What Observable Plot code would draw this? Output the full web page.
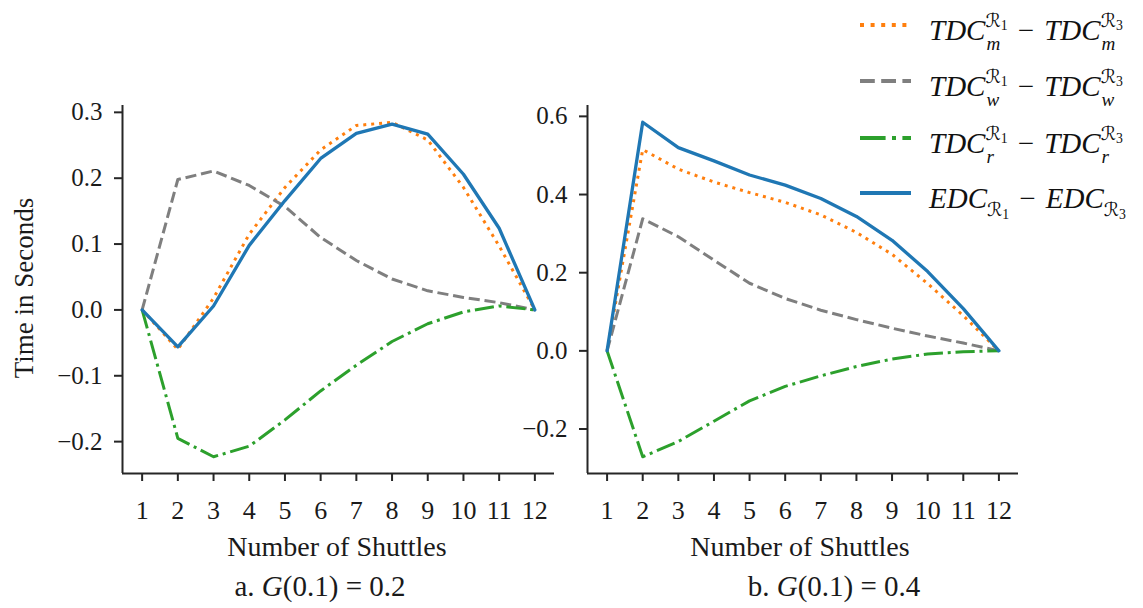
<!DOCTYPE html>
<html>
<head>
<meta charset="utf-8">
<script src="https://cdn.jsdelivr.net/npm/d3@7"></script>
<script src="https://cdn.jsdelivr.net/npm/@observablehq/plot@0.6"></script>
<style>
  body { margin: 0; background: #fff; }
  #wrap { position: relative; width: 1143px; height: 608px; overflow: hidden; font-family: "Liberation Serif", "Times New Roman", serif; color: #1a1a1a; }
  .panel { position: absolute; top: 0; }
  .xlabel { position: absolute; white-space: nowrap; font-size: 28px; transform: translateX(-50%); line-height: 1; }
  .caption { position: absolute; white-space: nowrap; font-size: 29px; transform: translateX(-50%); line-height: 1; }
  .caption i { font-style: italic; }
  .caption .eq { margin: 0 0.25em; }
  .ylabel { position: absolute; white-space: nowrap; font-size: 27px; line-height: 1; transform: translate(-50%, -50%) rotate(-90deg); }
  .leg-line { position: absolute; }
  .leg-text { position: absolute; white-space: nowrap; font-size: 29px; line-height: 1; font-style: italic; color: #111; }
  .scr { font-family: "DejaVu Serif", "DejaVu Sans", serif; font-style: normal; }
  .ss { display: inline-block; position: relative; font-size: 0.66em; font-style: italic; }
  .ss .up { position: relative; top: -0.7em; }
  .ss .dn { position: absolute; left: 0.05em; top: 0.5em; }
  .num { font-style: normal; font-size: 0.72em; position: relative; top: 0.25em; }
  .sb { display: inline-block; position: relative; top: 0.4em; font-size: 0.66em; }
  .op { font-style: normal; margin: 0 0.35em; }
</style>
</head>
<body>
<div id="wrap"></div>
<script>
// ---------- data ----------
const shuttles = [1, 2, 3, 4, 5, 6, 7, 8, 9, 10, 11, 12];
const seriesKeys = ["TDCm", "TDCw", "TDCr", "EDC"];

// Panel a: G(0.1) = 0.2
const aTDCm = [0, -0.060, 0.018, 0.115, 0.186, 0.243, 0.280, 0.285, 0.258, 0.186, 0.097, 0];
const aTDCw = [0, 0.198, 0.211, 0.189, 0.157, 0.110, 0.075, 0.047, 0.029, 0.019, 0.011, 0];
const aTDCr = [0, -0.195, -0.223, -0.207, -0.167, -0.123, -0.084, -0.048, -0.021, -0.003, 0.006, 0];
const aEDC  = [0, -0.056, 0.006, 0.098, 0.166, 0.230, 0.268, 0.282, 0.267, 0.206, 0.124, 0];

// Panel b: G(0.1) = 0.4
const bTDCm = [0, 0.515, 0.465, 0.432, 0.405, 0.380, 0.348, 0.303, 0.247, 0.172, 0.090, 0];
const bTDCw = [0, 0.338, 0.292, 0.232, 0.173, 0.134, 0.104, 0.080, 0.058, 0.038, 0.020, 0];
const bTDCr = [0, -0.271, -0.232, -0.180, -0.128, -0.091, -0.064, -0.040, -0.021, -0.008, -0.002, 0];
const bEDC  = [0, 0.585, 0.520, 0.486, 0.450, 0.424, 0.390, 0.344, 0.283, 0.203, 0.108, 0];

const aYTicks = [-0.2, -0.1, 0.0, 0.1, 0.2, 0.3];
const bYTicks = [-0.2, 0.0, 0.2, 0.4, 0.6];

const xLabel = "Number of Shuttles";
const yLabel = "Time in Seconds";
const captionA = ["a. ", "G", "(0.1)", "=", "0.2"];
const captionB = ["b. ", "G", "(0.1)", "=", "0.4"];

// ---------- styles ----------
const colors = { TDCm: "#ff7f0e", TDCw: "#7f7f7f", TDCr: "#2ca02c", EDC: "#1f77b4" };
const dashes = { TDCm: "3,4.95", TDCw: "11.1,4.8", TDCr: "19.2,4.8,3,4.8", EDC: null };
const widths = { TDCm: 3, TDCw: 3, TDCr: 3, EDC: 3.3 };

function toRows(arrs) {
  const rows = [];
  seriesKeys.forEach((k, i) => arrs[i].forEach((v, j) => rows.push({ n: shuttles[j], v, s: k })));
  return rows;
}

function makePanel(arrs, yTicks, cfg) {
  const rows = toRows(arrs);
  const [xmin, xmax] = d3.extent(shuttles);
  const xpad = (xmax - xmin) * 0.05;
  const [ymin, ymax] = d3.extent(rows, d => d.v);
  const ypad = (ymax - ymin) * 0.05;
  const xd = [xmin - xpad, xmax + xpad];
  const yd = [ymin - ypad, ymax + ypad];
  const marks = [];
  for (const k of seriesKeys) {
    marks.push(Plot.line(rows.filter(d => d.s === k), {
      x: "n", y: "v", stroke: colors[k], strokeWidth: widths[k],
      strokeDasharray: dashes[k] || undefined,
      strokeLinecap: dashes[k] ? "butt" : "round", strokeLinejoin: "round"
    }));
  }
  marks.push(Plot.ruleX([xd[0]], { stroke: "#262626", strokeWidth: 2 }));
  marks.push(Plot.ruleY([yd[0]], { stroke: "#262626", strokeWidth: 2 }));
  marks.push(Plot.axisX({ ticks: shuttles, tickSize: 8, tickPadding: 19, fontSize: 26, stroke: "#262626", strokeWidth: 2, color: "#1a1a1a", label: null }));
  marks.push(Plot.axisY({ ticks: yTicks, tickSize: 8, tickPadding: 12, fontSize: 25, tickFormat: d3.format(".1f"), stroke: "#262626", strokeWidth: 2, color: "#1a1a1a", label: null }));
  const svg = Plot.plot({
    width: cfg.width, height: 530,
    marginLeft: cfg.ml, marginRight: cfg.mr, marginTop: 105, marginBottom: 57,
    x: { domain: xd }, y: { domain: yd },
    style: { background: "transparent", overflow: "visible", fontFamily: "'Liberation Serif', serif", maxWidth: "none" },
    marks
  });
  svg.classList.add("panel");
  svg.style.left = cfg.left + "px";
  return svg;
}

const wrap = document.getElementById("wrap");
wrap.appendChild(makePanel([aTDCm, aTDCw, aTDCr, aEDC], aYTicks, { left: 0, width: 560, ml: 122, mr: 6 }));
wrap.appendChild(makePanel([bTDCm, bTDCw, bTDCr, bEDC], bYTicks, { left: 480, width: 663, ml: 107, mr: 125 }));

function addDiv(cls, html, left, top) {
  const d = document.createElement("div");
  d.className = cls; d.innerHTML = html;
  d.style.left = left + "px"; d.style.top = top + "px";
  wrap.appendChild(d);
  return d;
}
addDiv("xlabel", xLabel, 337, 533);
addDiv("xlabel", xLabel, 800, 533);
addDiv("ylabel", yLabel, 24, 288);
const cap = c => `${c[0]}<i>${c[1]}</i>${c[2]}<span class="eq">${c[3]}</span>${c[4]}`;
addDiv("caption", cap(captionA), 320, 572);
addDiv("caption", cap(captionB), 834, 572);

// ---------- legend ----------
const R = `<span class="scr">\u211B</span>`;
function tdc(sub) {
  const t = (r) => `TDC<span class="ss"><span class="up">${R}<span class="num">${r}</span></span><span class="dn">${sub}</span></span>`;
  return `${t(1)}<span class="op">\u2212</span>${t(3)}`;
}
function edc() {
  const t = (r) => `EDC<span class="sb">${R}<span class="num">${r}</span></span>`;
  return `${t(1)}<span class="op">\u2212</span>${t(3)}`;
}
const legendLabels = [tdc("m"), tdc("w"), tdc("r"), edc()];
const legendY = [25, 81, 138, 193];
seriesKeys.forEach((k, i) => {
  const s = document.createElementNS("http://www.w3.org/2000/svg", "svg");
  s.setAttribute("width", 54); s.setAttribute("height", 12);
  s.setAttribute("class", "leg-line");
  s.style.left = "858px"; s.style.top = (legendY[i] - 6) + "px";
  const l = document.createElementNS("http://www.w3.org/2000/svg", "line");
  l.setAttribute("x1", 2); l.setAttribute("x2", 53); l.setAttribute("y1", 6); l.setAttribute("y2", 6);
  l.setAttribute("stroke", colors[k]); l.setAttribute("stroke-width", 4);
  if (dashes[k]) l.setAttribute("stroke-dasharray", dashes[k].split(",").map(v => +v * 4 / 3).join(","));
  s.appendChild(l);
  wrap.appendChild(s);
  addDiv("leg-text", legendLabels[i], 929, legendY[i] - 9);
});
</script>
</body>
</html>
